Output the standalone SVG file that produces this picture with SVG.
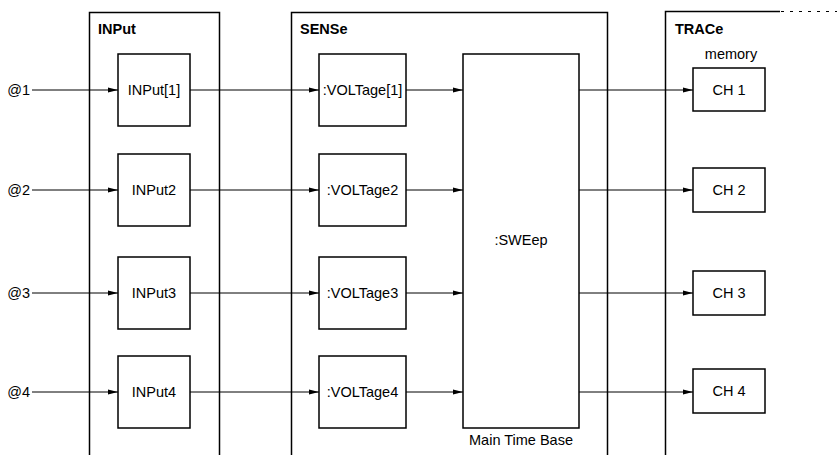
<svg xmlns="http://www.w3.org/2000/svg" width="837" height="455" viewBox="0 0 837 455">
<defs>
<style>
text{font-family:"Liberation Sans",Arial,sans-serif;font-size:14.5px;fill:#000}
.t{font-weight:bold;font-size:14.5px}
.c{text-anchor:middle;dominant-baseline:central}
.p{fill:none;stroke:#000;stroke-width:1.5}
.b{fill:#fff;stroke:#000;stroke-width:1.5}
.l{fill:none;stroke:#000;stroke-width:1}
</style>
<marker id="a" viewBox="0 0 10 6" refX="10" refY="3" markerWidth="10" markerHeight="6" markerUnits="userSpaceOnUse" orient="auto"><path d="M0,0.5L10,3L0,5.5z" fill="#000"/></marker>
</defs>
<g id="panel-input"><path class="p" d="M89.5,455V12.5H219.5V455"/><text class="t" x="98" y="34">INPut</text></g>
<g id="panel-sense"><path class="p" d="M291.5,455V12.5H607.5V455"/><text class="t" x="300" y="34">SENSe</text></g>
<g id="panel-trace"><path class="p" d="M665.5,455V11.5H780"/><path class="l" d="M781,11.5H837" stroke-dasharray="3,6" stroke-width="1.5"/><text class="t" x="675" y="34">TRACe</text><text class="c" x="731" y="54">memory</text></g>
<g id="connectors">
<path class="l" marker-end="url(#a)" d="M32,90H118"/>
<path class="l" marker-end="url(#a)" d="M32,190H118"/>
<path class="l" marker-end="url(#a)" d="M32,293H118"/>
<path class="l" marker-end="url(#a)" d="M32,392H118"/>
<path class="l" marker-end="url(#a)" d="M190,90H319"/>
<path class="l" marker-end="url(#a)" d="M190,190H319"/>
<path class="l" marker-end="url(#a)" d="M190,293H319"/>
<path class="l" marker-end="url(#a)" d="M190,392H319"/>
<path class="l" marker-end="url(#a)" d="M406,90H463"/>
<path class="l" marker-end="url(#a)" d="M406,190H463"/>
<path class="l" marker-end="url(#a)" d="M406,293H463"/>
<path class="l" marker-end="url(#a)" d="M406,392H463"/>
<path class="l" marker-end="url(#a)" d="M579,90H693"/>
<path class="l" marker-end="url(#a)" d="M579,190H693"/>
<path class="l" marker-end="url(#a)" d="M579,293H693"/>
<path class="l" marker-end="url(#a)" d="M579,392H693"/>
</g>
<g id="src1"><text x="30" y="90" text-anchor="end" dominant-baseline="central">@1</text></g>
<g id="src2"><text x="30" y="190" text-anchor="end" dominant-baseline="central">@2</text></g>
<g id="src3"><text x="30" y="293" text-anchor="end" dominant-baseline="central">@3</text></g>
<g id="src4"><text x="30" y="392" text-anchor="end" dominant-baseline="central">@4</text></g>
<g id="input1"><rect class="b" x="118" y="54" width="72" height="72"/><text class="c" x="154" y="90">INPut[1]</text></g>
<g id="input2"><rect class="b" x="118" y="154" width="72" height="72"/><text class="c" x="154" y="190">INPut2</text></g>
<g id="input3"><rect class="b" x="118" y="257" width="72" height="72"/><text class="c" x="154" y="293">INPut3</text></g>
<g id="input4"><rect class="b" x="118" y="356" width="72" height="72"/><text class="c" x="154" y="392">INPut4</text></g>
<g id="voltage1"><rect class="b" x="319" y="54" width="87" height="72"/><text class="c" x="362.5" y="90">:VOLTage[1]</text></g>
<g id="voltage2"><rect class="b" x="319" y="154" width="87" height="72"/><text class="c" x="362.5" y="190">:VOLTage2</text></g>
<g id="voltage3"><rect class="b" x="319" y="257" width="87" height="72"/><text class="c" x="362.5" y="293">:VOLTage3</text></g>
<g id="voltage4"><rect class="b" x="319" y="356" width="87" height="72"/><text class="c" x="362.5" y="392">:VOLTage4</text></g>
<g id="sweep"><rect class="b" x="463" y="54" width="116" height="374"/><text class="c" x="521" y="240">:SWEep</text><text class="c" x="521" y="440">Main Time Base</text></g>
<g id="ch1"><rect class="b" x="693" y="68" width="72" height="43"/><text class="c" x="729" y="89.5">CH 1</text></g>
<g id="ch2"><rect class="b" x="693" y="168" width="72" height="44"/><text class="c" x="729" y="190">CH 2</text></g>
<g id="ch3"><rect class="b" x="693" y="271" width="72" height="44"/><text class="c" x="729" y="293">CH 3</text></g>
<g id="ch4"><rect class="b" x="693" y="369" width="72" height="44"/><text class="c" x="729" y="391">CH 4</text></g>
</svg>
